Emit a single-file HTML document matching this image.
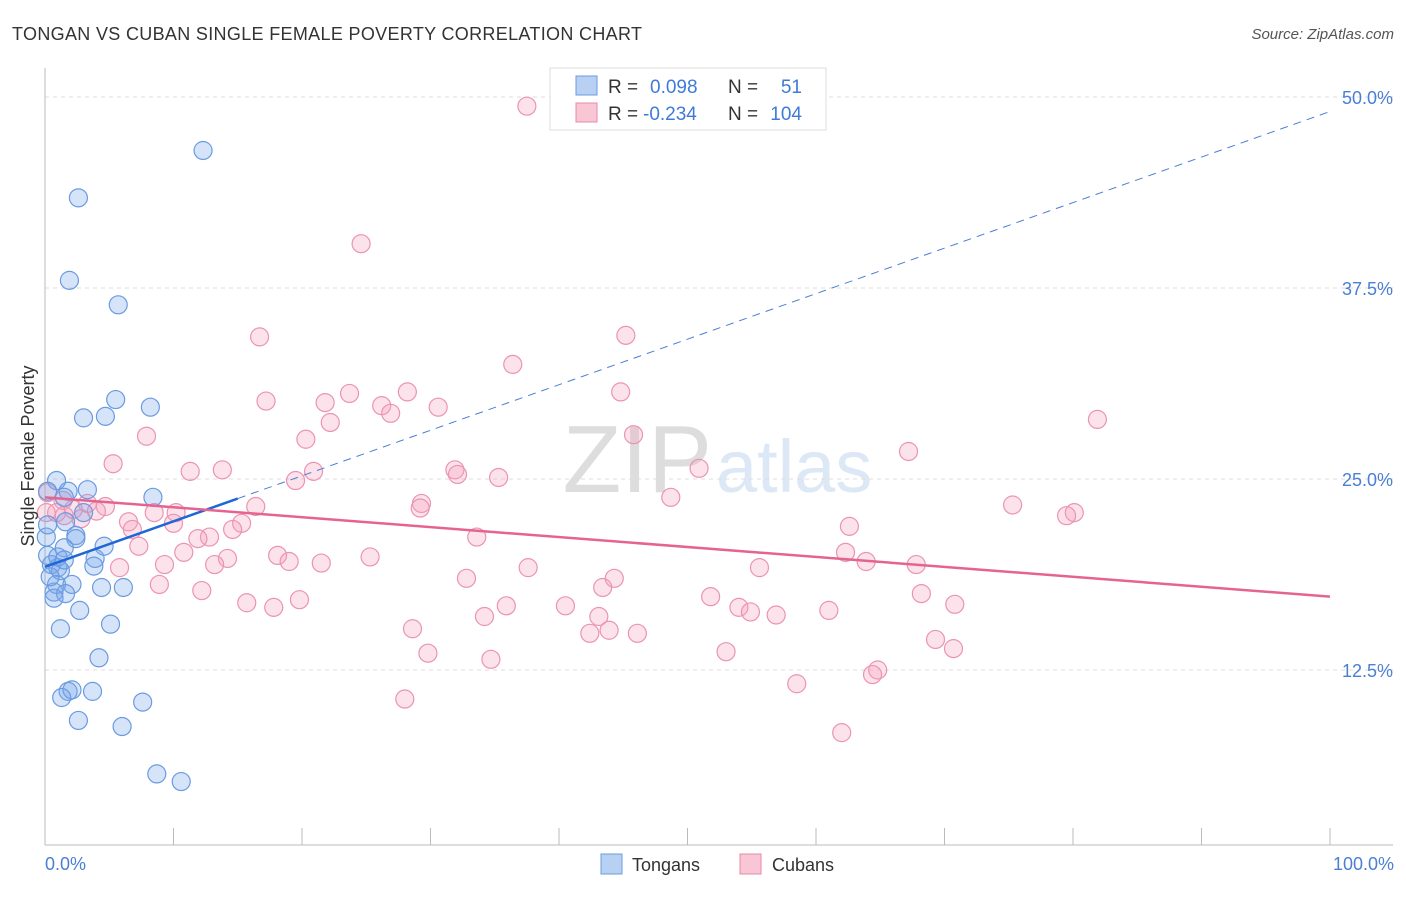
<!DOCTYPE html>
<html><head><meta charset="utf-8"><style>
body{margin:0;background:#fff;font-family:"Liberation Sans",sans-serif;}
svg text{font-family:"Liberation Sans",sans-serif;}
</style></head><body>
<svg id="chart" width="1406" height="892" xmlns="http://www.w3.org/2000/svg">
<text x="12" y="40" font-size="18" fill="#333" textLength="630" lengthAdjust="spacing">TONGAN VS CUBAN SINGLE FEMALE POVERTY CORRELATION CHART</text>
<text x="1394" y="39" font-size="15" fill="#555" text-anchor="end" font-style="italic">Source: ZipAtlas.com</text>
<text x="712" y="492" font-size="96" fill="#ddd" text-anchor="end" font-family="Liberation Serif">ZIP</text>
<text x="716" y="492" font-size="74" fill="#dce8f5">atlas</text>
<g id="grid"></g>
<g id="axes"></g>
<g id="pts"></g>
<g id="lines"></g>
<text transform="translate(34,456) rotate(-90)" font-size="18" fill="#333" text-anchor="middle">Single Female Poverty</text>
<text x="45" y="870" font-size="18" fill="#4a7fd4">0.0%</text>
<text x="1394" y="870" font-size="18" fill="#4a7fd4" text-anchor="end">100.0%</text>
<g>
<rect x="550" y="68" width="276" height="62" fill="#fff" stroke="#ddd"/>
<rect x="576" y="76" width="21" height="19" fill="#b8d1f3" stroke="#6a9be0"/>
<rect x="576" y="103" width="21" height="19" fill="#f9c6d5" stroke="#e88aaa"/>
<text x="608" y="93" font-size="19" fill="#333">R =</text>
<text x="650" y="93" font-size="19" fill="#3f7bd6">0.098</text>
<text x="728" y="93" font-size="19" fill="#333">N =</text>
<text x="802" y="93" font-size="19" fill="#3f7bd6" text-anchor="end">51</text>
<text x="608" y="120" font-size="19" fill="#333">R =</text>
<text x="643" y="120" font-size="19" fill="#3f7bd6">-0.234</text>
<text x="728" y="120" font-size="19" fill="#333">N =</text>
<text x="802" y="120" font-size="19" fill="#3f7bd6" text-anchor="end">104</text>
</g>
<g>
<rect x="601" y="854" width="21" height="20" fill="#b8d1f3" stroke="#6a9be0"/>
<text x="632" y="871" font-size="18" fill="#333">Tongans</text>
<rect x="740" y="854" width="21" height="20" fill="#f9c6d5" stroke="#e88aaa"/>
<text x="772" y="871" font-size="18" fill="#333">Cubans</text>
</g>
</svg>
<script>
const yTicks=[12.5,25,37.5,50];
const yTickLabels=["12.5%","25.0%","37.5%","50.0%"];
const xTicks=[0,10,20,30,40,50,60,70,80,90,100];
const tonganX=[12.3,2.6,1.9,5.7,5.5,8.2,3.0,4.7,0.9,3.3,1.8,0.2,8.4,1.5,3.0,1.6,2.4,2.4,0.1,1.5,4.6,3.9,0.2,0.5,1.0,1.2,3.8,0.9,2.1,6.1,4.4,0.7,1.6,0.7,2.7,5.1,1.2,4.2,1.8,2.1,1.3,3.7,7.6,2.6,6.0,8.7,10.6,0.2,1.0,1.5,0.4];
const tonganY=[46.5,43.4,38.0,36.4,30.2,29.7,29.0,29.1,24.9,24.3,24.2,24.2,23.8,23.8,22.8,22.2,21.3,21.1,21.2,20.5,20.6,19.8,20.0,19.4,19.2,19.0,19.3,18.1,18.1,17.9,17.9,17.6,17.5,17.2,16.4,15.5,15.2,13.3,11.1,11.2,10.7,11.1,10.4,9.2,8.8,5.7,5.2,22.0,19.9,19.7,18.6];
const cubanX=[37.5,24.6,16.7,45.2,36.4,23.7,28.2,44.8,17.2,21.8,26.2,26.9,30.6,22.2,81.9,7.9,20.3,45.8,67.2,5.3,11.3,13.8,31.9,32.1,50.9,20.9,19.5,35.3,48.7,29.3,0.2,3.3,1.4,4.7,4.0,2.2,0.9,0.1,1.5,16.4,29.2,8.5,10.2,75.3,80.1,79.5,6.5,10.0,15.3,14.6,6.8,62.6,33.6,12.8,11.9,7.3,10.8,18.1,25.3,62.3,19.0,63.9,14.2,9.3,13.2,21.5,67.8,5.8,37.6,55.6,32.8,44.3,43.4,8.9,12.2,51.8,68.2,15.7,19.8,17.8,35.9,40.5,54.0,70.8,61.0,54.9,56.9,34.2,43.1,28.6,43.9,42.4,46.1,69.3,70.7,29.8,53.0,34.7,64.8,64.4,58.5,28.0,62.0,2.8];
const cubanY=[49.4,40.4,34.3,34.4,32.5,30.6,30.7,30.7,30.1,30.0,29.8,29.3,29.7,28.7,28.9,27.8,27.6,27.9,26.8,26.0,25.5,25.6,25.6,25.3,25.7,25.5,24.9,25.1,23.8,23.4,24.1,23.4,23.6,23.2,22.9,23.0,22.8,22.8,22.6,23.2,23.1,22.8,22.8,23.3,22.8,22.6,22.2,22.1,22.1,21.7,21.7,21.9,21.2,21.2,21.1,20.6,20.2,20.0,19.9,20.2,19.6,19.6,19.8,19.4,19.4,19.5,19.4,19.2,19.2,19.2,18.5,18.5,17.9,18.1,17.7,17.3,17.5,16.9,17.1,16.6,16.7,16.7,16.6,16.8,16.4,16.3,16.1,16.0,16.0,15.2,15.1,14.9,14.9,14.5,13.9,13.6,13.7,13.2,12.5,12.2,11.6,10.6,8.4,22.4];
const tonganFit=[19.25,0.298,0,15,100];
const cubanFit=[23.8,-0.065,0,100];
const NS='http://www.w3.org/2000/svg';
const sx=v=>45+v*12.85;
const sy=v=>861-v*15.28;
function mk(tag,attrs,parent){const e=document.createElementNS(NS,tag);for(const k in attrs)e.setAttribute(k,attrs[k]);parent.appendChild(e);return e;}
const grid=document.getElementById('grid'),axes=document.getElementById('axes'),pts=document.getElementById('pts'),lines=document.getElementById('lines');
yTicks.forEach((t,i)=>{
 const l=mk('line',{x1:45,x2:1393,y1:sy(t),y2:sy(t),stroke:'#ddd','stroke-dasharray':'4,4'},grid);
 
 
 const tx=mk('text',{x:1393,y:sy(t)+7,'font-size':18,fill:'#4a7fd4','text-anchor':'end'},grid);
 tx.textContent=yTickLabels[i];
 
 
});
const ya=mk('line',{x1:45,x2:45,y1:68,y2:845,stroke:'#bbb'},axes);


const xa=mk('line',{x1:45,x2:1393,y1:845,y2:845,stroke:'#bbb'},axes);


xTicks.forEach(t=>{
 const l=mk('line',{x1:sx(t),x2:sx(t),y1:828,y2:845,stroke:'#bbb'},axes);
 
 
});
cubanX.forEach((x,i)=>{
 const c=mk('circle',{cx:sx(x),cy:sy(cubanY[i]),r:9,fill:'rgba(244,160,190,0.3)',stroke:'#eb94b1','stroke-width':1.2},pts);
 
 
});
tonganX.forEach((x,i)=>{
 const c=mk('circle',{cx:sx(x),cy:sy(tonganY[i]),r:9,fill:'rgba(120,165,235,0.3)',stroke:'#6a9be0','stroke-width':1.2},pts);
 
 
});
const tf=x=>tonganFit[0]+tonganFit[1]*x;
const l1=mk('line',{x1:sx(tonganFit[3]),y1:sy(tf(tonganFit[3])),x2:sx(tonganFit[4]),y2:sy(tf(tonganFit[4])),stroke:'#4a7fd4','stroke-width':1,'stroke-dasharray':'8,6'},lines);


const l2=mk('line',{x1:sx(tonganFit[2]),y1:sy(tf(tonganFit[2])),x2:sx(tonganFit[3]),y2:sy(tf(tonganFit[3])),stroke:'#1f66d6','stroke-width':2.5},lines);


const cf=x=>cubanFit[0]+cubanFit[1]*x;
const l3=mk('line',{x1:sx(cubanFit[2]),y1:sy(cf(cubanFit[2])),x2:sx(cubanFit[3]),y2:sy(cf(cubanFit[3])),stroke:'#e5648f','stroke-width':2.5},lines);


</script>
</body></html>
